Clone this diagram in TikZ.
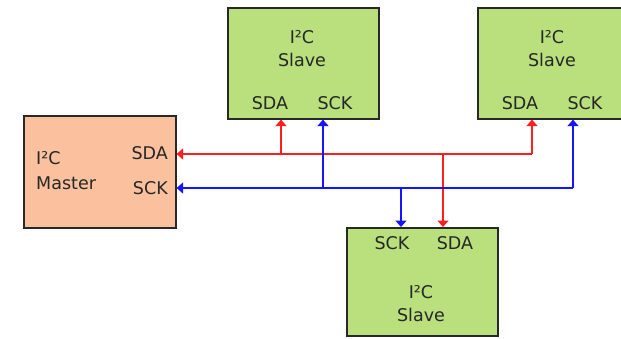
\documentclass[tikz,border=0pt]{standalone}
\usepackage{fontspec}
\setmainfont{DejaVu Sans}
\usetikzlibrary{arrows.meta}
\definecolor{masterfill}{RGB}{251,193,158}
\definecolor{slavefill}{RGB}{185,224,124}
\definecolor{boxline}{RGB}{40,40,40}
\definecolor{sdacol}{RGB}{255,30,30}
\definecolor{sckcol}{RGB}{20,20,255}
\begin{document}
\begin{tikzpicture}[x=1pt,y=-1pt,
  font=\fontsize{17.5}{21}\selectfont,
  unit/.style={draw=boxline,line width=1.6pt,inner sep=0pt,anchor=north west},
  lbl/.style={inner sep=0pt,text=black!85},
  sig/.style={line width=1.5pt,-{Triangle[width=11pt,length=6.5pt]}},
  bus/.style={line width=1.5pt}]
\useasboundingbox (0,0) rectangle (621,338);
\begin{scope}
\clip (0,0) rectangle (621,338);
% boxes
\node[unit,fill=masterfill,minimum width=152pt,minimum height=112pt] (master) at (23,115) {};
\node[unit,fill=slavefill,minimum width=151pt,minimum height=111pt] (s1) at (227,7) {};
\node[unit,fill=slavefill,minimum width=151pt,minimum height=111pt] (s2) at (477,7) {};
\node[unit,fill=slavefill,minimum width=151pt,minimum height=108pt] (s3) at (346,227) {};
\end{scope}
% labels
\node[lbl,anchor=west] (mI) at (36,158) {I²C};
\node[lbl,anchor=west] (mM) at (36,183) {Master};
\node[lbl,anchor=east] (mSDA) at (168,153) {SDA};
\node[lbl,anchor=east] (mSCK) at (168,188) {SCK};
\node[lbl] (s1I) at (302,37) {I²C};
\node[lbl] (s1S) at (302,60) {Slave};
\node[lbl] (s1SDA) at (270,103) {SDA};
\node[lbl] (s1SCK) at (335,103) {SCK};
\node[lbl] (s2I) at (552,37) {I²C};
\node[lbl] (s2S) at (552,60) {Slave};
\node[lbl] (s2SDA) at (520,103) {SDA};
\node[lbl] (s2SCK) at (585,103) {SCK};
\node[lbl] (s3SCK) at (392,243) {SCK};
\node[lbl] (s3SDA) at (455,243) {SDA};
\node[lbl] (s3I) at (421,292) {I²C};
\node[lbl] (s3S) at (421,315) {Slave};
% junctions
\coordinate (dA) at (281,154);
\coordinate (dB) at (443,154);
\coordinate (dC) at (532,154);
\coordinate (cA) at (323,188);
\coordinate (cB) at (401,188);
\coordinate (cC) at (573,188);
% SDA bus (red)
\draw[bus,sdacol] (dA) -- (dC);
\draw[sig,sdacol] (dA) -- (master.east |- dA);
\draw[sig,sdacol] (dA) -- (dA |- s1.south);
\draw[sig,sdacol] (dC) -- (dC |- s2.south);
\draw[sig,sdacol] (dB) -- (dB |- s3.north);
% SCK bus (blue)
\draw[bus,sckcol] (cA) -- (cC);
\draw[sig,sckcol] (cA) -- (master.east |- cA);
\draw[sig,sckcol] (cA) -- (cA |- s1.south);
\draw[sig,sckcol] (cC) -- (cC |- s2.south);
\draw[sig,sckcol] (cB) -- (cB |- s3.north);
\end{tikzpicture}
\end{document}
